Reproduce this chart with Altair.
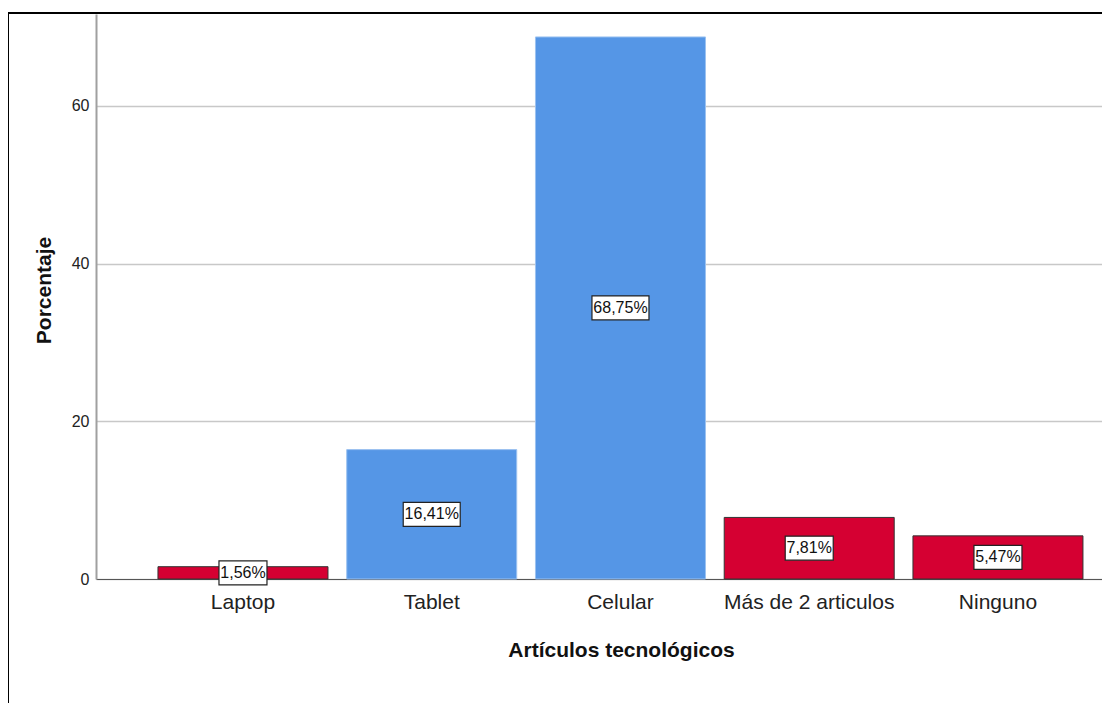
import altair as alt
import pandas as pd

categorias = ["Laptop", "Tablet", "Celular", "Más de 2 articulos", "Ninguno"]
porcentajes = [1.56, 16.41, 68.75, 7.81, 5.47]
destacadas = ["Tablet", "Celular"]
etiquetas = [f"{v:.2f}".replace(".", ",") + "%" for v in porcentajes]

df = pd.DataFrame({"cat": categorias, "pct": porcentajes, "lab": etiquetas})

W, H = 1006, 565
FONT = "Liberation Sans"
BLUE = "#5596e6"
RED = "#d50032"

xscale = alt.Scale(domain=categorias, paddingInner=0.0993, paddingOuter=0.2146, align=0.765)
yscale = alt.Scale(domain=[0, 71.66], nice=False, zero=True)

x_axis = alt.Axis(
    title="Artículos tecnológicos", labelAngle=0, labelFontSize=21, labelFont=FONT,
    labelColor="#222222", labelPadding=12, ticks=False, domainColor="#555555",
    domainWidth=1, grid=False, titleFont=FONT, titleFontSize=21, titleFontWeight="bold",
    titleColor="#111111", titleX=525, titleY=71, titleBaseline="middle", titleAlign="center",
)
y_axis = alt.Axis(
    title="Porcentaje", values=[0, 20, 40, 60], labelFontSize=16, labelFont=FONT,
    labelColor="#222222", labelPadding=7, ticks=False, domainColor="#a0a0a0",
    domainWidth=2, grid=True, gridColor="#c8c8c8", gridWidth=1.5, titleFont=FONT,
    titleFontSize=21, titleFontWeight="bold", titleColor="#111111", titleX=-52,
    titleY=276, titleAngle=270, titleBaseline="middle", titleAlign="center",
)

X = alt.X("cat:N", scale=xscale, axis=x_axis, sort=categorias)
is_blue = alt.FieldOneOfPredicate(field="cat", oneOf=destacadas)

bars = alt.Chart(df).mark_bar(strokeWidth=1).encode(
    x=X,
    y=alt.Y("pct:Q", scale=yscale, axis=y_axis),
    fill=alt.condition(is_blue, alt.value(BLUE), alt.value(RED)),
    stroke=alt.condition(is_blue, alt.value("#9cc2f0"), alt.value("#333333")),
)

base = alt.Chart(df).transform_calculate(mid="datum.pct / 2")
Ymid = alt.Y("mid:Q", scale=yscale, axis=y_axis)

box5 = base.transform_filter("length(datum.lab) == 5").mark_rect(
    width=48, height=24, fill="white", stroke="#222222", strokeWidth=1.2
).encode(x=X, y=Ymid)
box6 = base.transform_filter("length(datum.lab) == 6").mark_rect(
    width=57, height=24, fill="white", stroke="#222222", strokeWidth=1.2
).encode(x=X, y=Ymid)
texts = base.mark_text(fontSize=16, font=FONT, color="#111111", baseline="middle").encode(
    x=X, y=Ymid, text="lab:N"
)

one = alt.Data(values=[{"k": 1}])
frame_top = alt.Chart(one).mark_rule(color="black", strokeWidth=2).encode(
    x=alt.value(-88), x2=alt.value(W), y=alt.value(-1)
)
frame_left = alt.Chart(one).mark_rule(color="black", strokeWidth=2).encode(
    x=alt.value(-88), y=alt.value(-2), y2=alt.value(H + 124)
)

chart = alt.layer(bars, box5, box6, texts, frame_top, frame_left).properties(
    width=W, height=H,
    autosize=alt.AutoSizeParams(type="none"),
    padding={"left": 88, "top": 6, "right": 0, "bottom": 124},
    background="white",
).configure_view(strokeWidth=0)

chart.save("out.html", embed_options={"renderer": "svg", "actions": False})
